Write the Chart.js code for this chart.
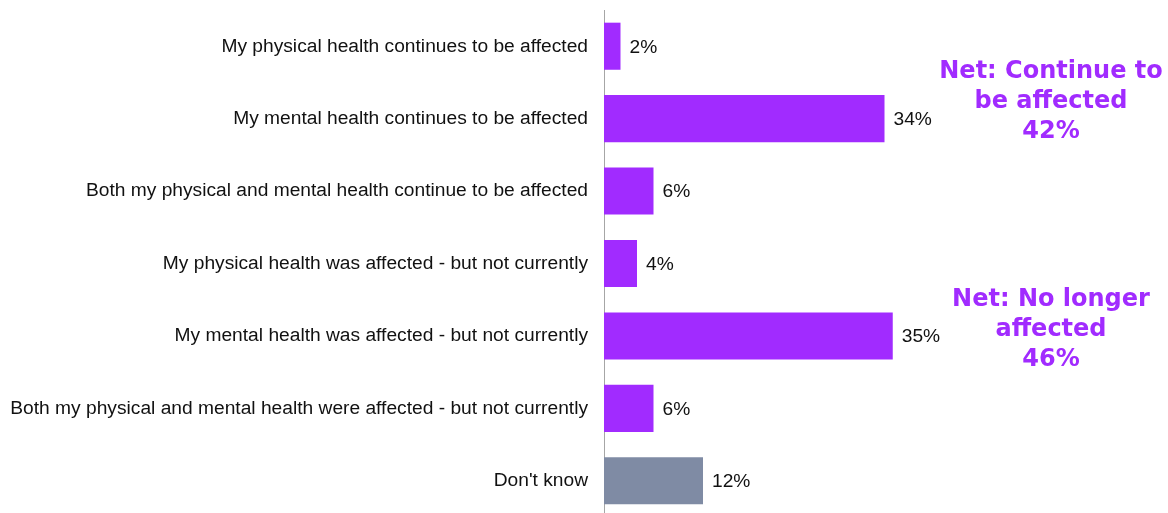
<!DOCTYPE html>
<html>
<head>
<meta charset="utf-8">
<script src="https://cdn.jsdelivr.net/npm/chart.js@4.4.1/dist/chart.umd.min.js"></script>
<style>
  html, body { margin: 0; padding: 0; background: #fff; overflow: hidden; }
  #wrap { width: 1168px; height: 520px; position: relative; }
</style>
</head>
<body>
<div id="wrap"><canvas id="c"></canvas></div>
<script>
const categories = [
  "My physical health continues to be affected",
  "My mental health continues to be affected",
  "Both my physical and mental health continue to be affected",
  "My physical health was affected - but not currently",
  "My mental health was affected - but not currently",
  "Both my physical and mental health were affected - but not currently",
  "Don't know"
];
const values = [2, 34, 6, 4, 35, 6, 12];
const barColors = ["#A12BFF", "#A12BFF", "#A12BFF", "#A12BFF", "#A12BFF", "#A12BFF", "#7F8BA4"];
const netContinue = ["Net: Continue to", "be affected", "42%"];
const netNoLonger = ["Net: No longer", "affected", "46%"];

const FONT = "'Liberation Sans', Arial, sans-serif";
const LABEL_SIZE = 19.2;
const NOTE_FONT = "bold 24px 'DejaVu Sans', sans-serif";

// percentage labels just past the end of each bar
const valueLabels = {
  id: 'valueLabels',
  afterDatasetsDraw(chart) {
    const ctx = chart.ctx;
    const meta = chart.getDatasetMeta(0);
    ctx.save();
    ctx.font = LABEL_SIZE + "px " + FONT;
    ctx.fillStyle = "#111";
    ctx.textAlign = "left";
    ctx.textBaseline = "middle";
    meta.data.forEach((bar, i) => {
      ctx.fillText(values[i] + "%", bar.x + 9, bar.y + 1);
    });
    ctx.restore();
  }
};

// net totals in the right margin
const netNotes = {
  id: 'netNotes',
  afterDraw(chart) {
    const ctx = chart.ctx;
    const cx = 1051;
    ctx.save();
    ctx.font = NOTE_FONT;
    ctx.fillStyle = "#A12BFF";
    ctx.textAlign = "center";
    ctx.textBaseline = "middle";
    netContinue.forEach((t, i) => ctx.fillText(t, cx, 72 + i * 30));
    netNoLonger.forEach((t, i) => ctx.fillText(t, cx, 300 + i * 30));
    ctx.restore();
  }
};

new Chart(document.getElementById('c'), {
  type: 'bar',
  data: {
    labels: categories,
    datasets: [{
      data: values,
      backgroundColor: barColors,
      borderWidth: 0,
      categoryPercentage: 0.65,
      barPercentage: 1.0
    }]
  },
  options: {
    indexAxis: 'y',
    responsive: true,
    maintainAspectRatio: false,
    animation: false,
    layout: { padding: { top: 10, bottom: 3, left: 0, right: 69 } },
    plugins: { legend: { display: false }, tooltip: { enabled: false } },
    scales: {
      x: {
        min: 0, max: 60,
        display: false,
        grid: { display: false }
      },
      y: {
        grid: { display: false, drawTicks: false },
        border: { display: true, color: '#A6A6A6', width: 1 },
        ticks: {
          color: '#111',
          padding: 16,
          font: { family: FONT, size: LABEL_SIZE }
        },
        afterFit(scale) {
          scale.width = 604;
          scale.paddingTop = 0;
          scale.paddingBottom = 0;
        }
      }
    }
  },
  plugins: [valueLabels, netNotes]
});
</script>
</body>
</html>
